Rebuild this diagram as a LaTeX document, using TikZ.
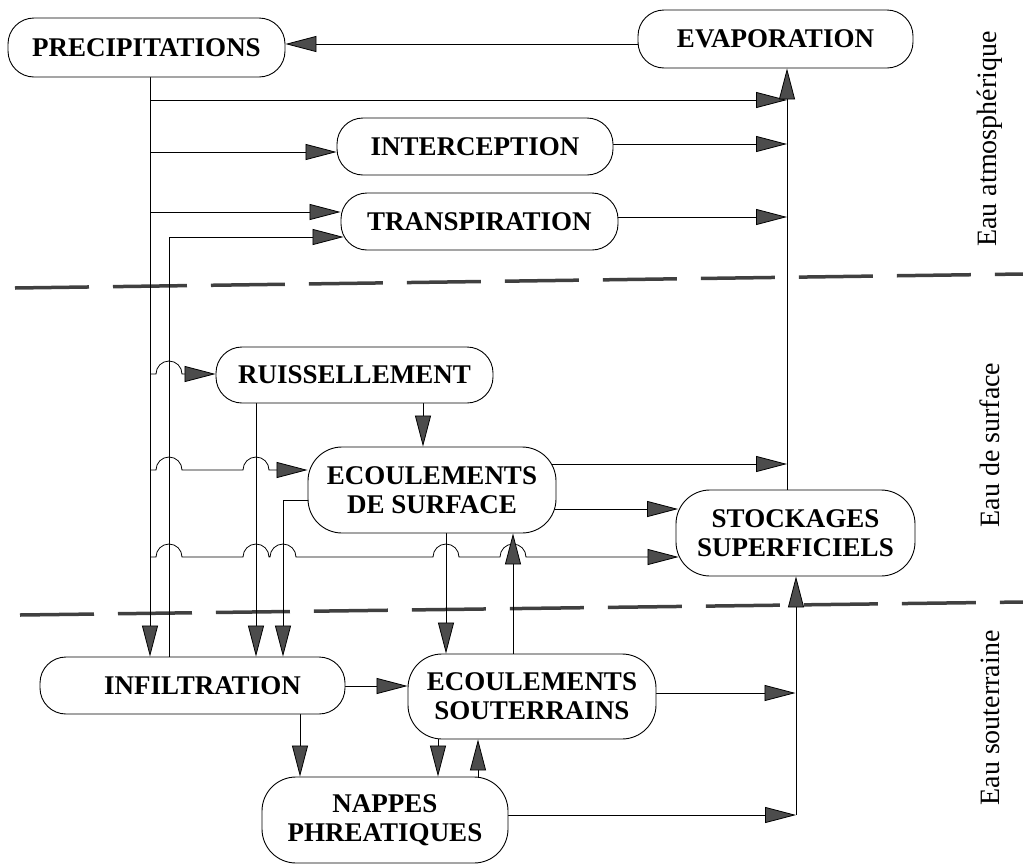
\documentclass[tikz,border=0pt]{standalone}
\usepackage{fontspec}
\setmainfont{Liberation Serif}
\usetikzlibrary{arrows.meta,backgrounds}
\begin{document}
\begin{tikzpicture}[x=1pt,y=-1pt,
  box/.style={draw,line width=0.9pt,rounded corners=26pt,fill=white,align=center,
    font=\bfseries\fontsize{27}{29}\selectfont,inner sep=0pt},
  bigbox/.style={box,rounded corners=34pt},
  ln/.style={line width=0.8pt},
  arr/.style={ln,-{Triangle[length=31pt,width=16pt,fill=black!70]}},
  zone/.style={font=\fontsize{28}{30}\selectfont,rotate=90},
  sep/.style={line width=3.5pt,black!75,dash pattern=on 74pt off 24pt}
]
\useasboundingbox (0,0) rectangle (1023,865);

% nodes
\node[box,minimum width=277pt,minimum height=59pt] (prec) at (146.5,47.5) {PRECIPITATIONS};
\node[box,minimum width=275pt,minimum height=58pt] (evap) at (775.5,39) {EVAPORATION};
\node[box,minimum width=276pt,minimum height=57pt] (inter) at (475,146.5) {INTERCEPTION};
\node[box,minimum width=277pt,minimum height=57pt] (transp) at (479.5,221.5) {TRANSPIRATION};
\node[box,minimum width=277pt,minimum height=56pt] (ruis) at (354.5,375) {RUISSELLEMENT};
\node[bigbox,minimum width=248pt,minimum height=86pt] (ecs) at (432,490) {ECOULEMENTS\\DE SURFACE};
\node[bigbox,minimum width=239pt,minimum height=86pt] (stock) at (795.5,533) {STOCKAGES\\SUPERFICIELS};
\node[box,minimum width=305pt,minimum height=57pt,text width=305pt,align=center] (infil) at (192.5,685.5) {\hspace*{20pt}INFILTRATION};
\node[bigbox,minimum width=248pt,minimum height=85pt] (ecsout) at (532,696.5) {ECOULEMENTS\\SOUTERRAINS};
\node[bigbox,minimum width=246pt,minimum height=86pt] (nappes) at (385,820) {NAPPES\\PHREATIQUES};

% zone labels
\node[zone] (za) at (990,139) {Eau atmosphérique};
\node[zone] (zs) at (990,445) {Eau de surface};
\node[zone] (zu) at (990,718) {Eau souterraine};

% junction coordinates
\coordinate (jp1) at (150,100);
\coordinate (je1) at (787,100);
\coordinate (jt) at (169,237);
\coordinate (je0) at (796,815);

\begin{scope}[on background layer]
% separators
\draw[sep] (15,288) -- (1023,274);
\draw[sep] (20,615) -- (1023,602);

% evaporation -> precipitations
\draw[arr] (evap.center |- 0,44) -- (prec.east |- 0,44);
% precipitations trunk -> infiltration
\draw[arr] (prec.south -| 150,0) -- (infil.north -| 150,0);
% precipitations -> evaporation line
\draw[arr] (jp1) -- (je1);
% precipitations -> interception, transpiration
\draw[arr] (150,152) -- (inter.west |- 0,152);
\draw[arr] (150,212) -- (transp.west |- 0,212);
% infiltration -> transpiration
\draw[arr] (infil.north -| jt) -- (jt) -- ([xshift=3pt]transp.west |- jt);
% precipitations -> ruissellement
\draw[arr] (150,374) -- (156,374) arc[start angle=180,end angle=0,radius=13pt]
  -- (ruis.west |- 0,374);
% precipitations -> ecoulements de surface
\draw[arr] (150,470) -- (156,470) arc[start angle=180,end angle=0,radius=13pt]
  -- (243,470) arc[start angle=180,end angle=0,radius=13pt]
  -- (ecs.west |- 0,470);
% precipitations -> stockages
\draw[arr] (150,557) -- (156,557) arc[start angle=180,end angle=0,radius=13pt]
  -- (243,557) arc[start angle=180,end angle=0,radius=13pt]
  -- (270,557) arc[start angle=180,end angle=0,radius=13pt]
  -- (433,557) arc[start angle=180,end angle=0,radius=13pt]
  -- (500,557) arc[start angle=180,end angle=0,radius=13pt]
  -- ([xshift=3pt]stock.west |- 0,557);
% ruissellement -> infiltration, ecoulements de surface
\draw[arr] (ruis.south -| 256,0) -- (infil.north -| 256,0);
\draw[arr] (ruis.south -| 423,0) -- (ecs.north -| 423,0);
% ecoulements de surface -> infiltration
\draw[arr] (ecs.center |- 0,500) -- (283,500) -- (infil.north -| 283,0);
% ecoulements de surface -> evaporation line, stockages
\draw[arr] (ecs.center |- 0,464) -- (787,464);
\draw[arr] (ecs.center |- 0,509) -- ([xshift=2.5pt]stock.west |- 0,509);
% stockages -> evaporation
\draw[arr] (stock.north -| je1) -- (evap.south -| je1);
% interception, transpiration -> evaporation line
\draw[arr] (inter.east |- 0,144) -- (787,144);
\draw[arr] (transp.east |- 0,217) -- (787,217);
% surface <-> souterrain
\draw[arr] (ecs.south -| 446,0) -- (ecsout.north -| 446,0);
\draw[arr] (ecsout.north -| 513,0) -- (ecs.south -| 513,0);
% infiltration -> ecoulements souterrains, nappes
\draw[arr] (infil.east |- 0,686) -- (ecsout.west |- 0,686);
\draw[arr] (infil.south -| 300,0) -- (nappes.north -| 300,0);
% ecoulements souterrains <-> nappes
\draw[arr] (ecsout.south -| 438,0) -- (nappes.north -| 438,0);
\draw[arr] (nappes.north -| 478,0) -- (ecsout.south -| 478,0);
% souterrain -> stockages line
\draw[arr] (ecsout.east |- 0,693) -- (795.5,693);
\draw[arr] (nappes.east |- je0) -- (je0);
\draw[arr] (je0) -- (stock.south -| je0);
\end{scope}
\end{tikzpicture}
\end{document}
